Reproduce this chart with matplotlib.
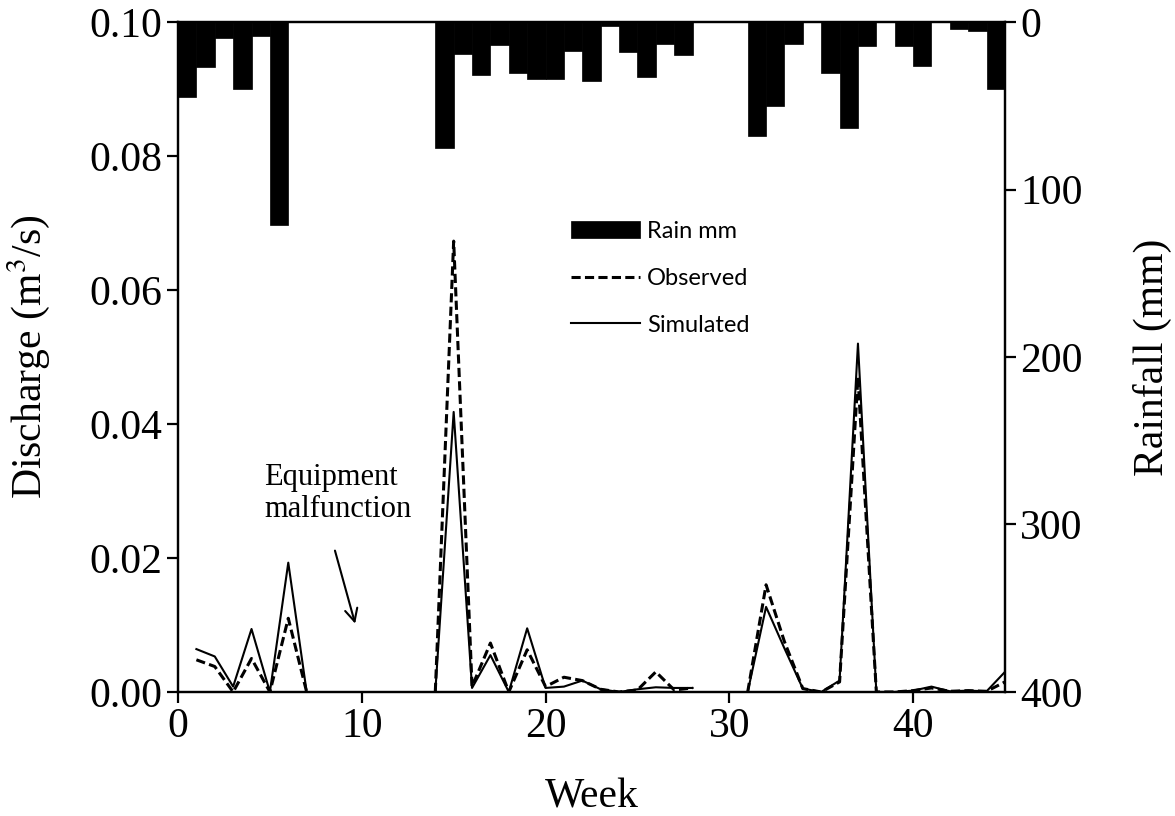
import numpy as np
import matplotlib
matplotlib.use("Agg")
import matplotlib.pyplot as plt

plt.rcParams['font.family'] = ['Liberation Serif', 'DejaVu Serif']
plt.rcParams['mathtext.fontset'] = 'stix'

nan = np.nan

# semaines 1..45
weeks = np.arange(1, 46)

# pluie hebdomadaire (mm)
rain_mm = [44.6, 27, 9.4, 40, 8.6, 121,
           0, 0, 0, 0, 0, 0, 0, 0,
           75, 19.3, 31.6, 14, 30.6, 33.8, 33.8, 17, 35.2, 2.4, 17.7, 33, 13.1, 19.9,
           0, 0, 0,
           68, 50, 13, 0, 30.6, 63.5, 14.5, 0, 14.3, 26, 0, 4.2, 5.6, 40]

# débit observé (m3/s), nan = panne de l'équipement
observed = [0.0048, 0.0038, 0.0, 0.005, 0.0, 0.011, 0.0,
            nan, nan, nan, nan, nan, nan,
            0.0, 0.0673, 0.0008, 0.0073, 0.0, 0.0063, 0.0008, 0.0022, 0.0017, 0.0004,
            0.0, 0.0003, 0.003, 0.0003, 0.0006,
            nan, nan,
            0.0, 0.016, 0.0075, 0.0005, 0.0, 0.0015, 0.047, 0.0, 0.0, 0.0002,
            0.0006, 0.0001, 0.0002, 0.0001, 0.0015]

# débit simulé (m3/s)
simulated = [0.0064, 0.0053, 0.0008, 0.0094, 0.0, 0.0193, 0.0,
             nan, nan, nan, nan, nan, nan,
             0.0, 0.0418, 0.0006, 0.0055, 0.0, 0.0095, 0.0006, 0.0008, 0.0017, 0.0004,
             0.0, 0.0004, 0.0007, 0.0006, 0.0006,
             nan, nan,
             0.0, 0.0127, 0.0065, 0.0005, 0.0, 0.0017, 0.052, 0.0, 0.0, 0.0002,
             0.0008, 0.0001, 0.0002, 0.0001, 0.003]

fig = plt.figure(figsize=(11.75, 8.16), dpi=100)
ax = fig.add_axes([0.1515, 0.152, 0.7038, 0.821])
ax2 = ax.twinx()

# barres de pluie (axe de droite inversé)
bars = ax2.bar(weeks, rain_mm, width=-1, align='edge', color='black',
               edgecolor='black', linewidth=0.5, label='Rain mm')
ax2.set_ylim(400, 0)
ax2.set_yticks([0, 100, 200, 300, 400])

# courbes de débit
l_obs, = ax.plot(weeks, observed, color='black', lw=2.2, ls=(0, (3, 1.4)),
                 label='Observed')
l_sim, = ax.plot(weeks, simulated, color='black', lw=1.5, label='Simulated')

ax.set_xlim(0, 45)
ax.set_ylim(0, 0.1)
ax.set_xticks([0, 10, 20, 30, 40])
ax.set_yticks([0, 0.02, 0.04, 0.06, 0.08, 0.10])
ax.yaxis.set_major_formatter(matplotlib.ticker.FormatStrFormatter('%.2f'))

for a in (ax, ax2):
    for s in a.spines.values():
        s.set_linewidth(1.6)
    a.tick_params(direction='out', length=8, width=1.6, labelsize=30, pad=3)

ax.set_xlabel('Week', fontsize=30)
ax.set_ylabel('Discharge (m$^3$/s)', fontsize=30)
ax2.set_ylabel('Rainfall (mm)', fontsize=30)
ax.xaxis.set_label_coords(0.5, -0.128)
ax.yaxis.set_label_coords(-0.152, 0.5)
ax2.yaxis.set_label_coords(1.155, 0.5)

# annotation panne
ax.text(4.68, 0.0342, 'Equipment\nmalfunction', fontsize=22, va='top',
        ha='left', linespacing=1.15)
ax.annotate('', xy=(9.68, 0.0098), xytext=(8.5, 0.0215),
            arrowprops=dict(arrowstyle='->,head_length=0.9,head_width=0.45',
                            lw=1.5, color='black'))

leg = ax2.legend(handles=[bars, l_obs, l_sim], loc='upper left',
                 bbox_to_anchor=(0.45, 0.735), frameon=False,
                 prop={'family': 'Lato', 'size': 17}, handlelength=2.9,
                 labelspacing=1.1, handletextpad=0.3)

fig.savefig('out.png', dpi=100)
